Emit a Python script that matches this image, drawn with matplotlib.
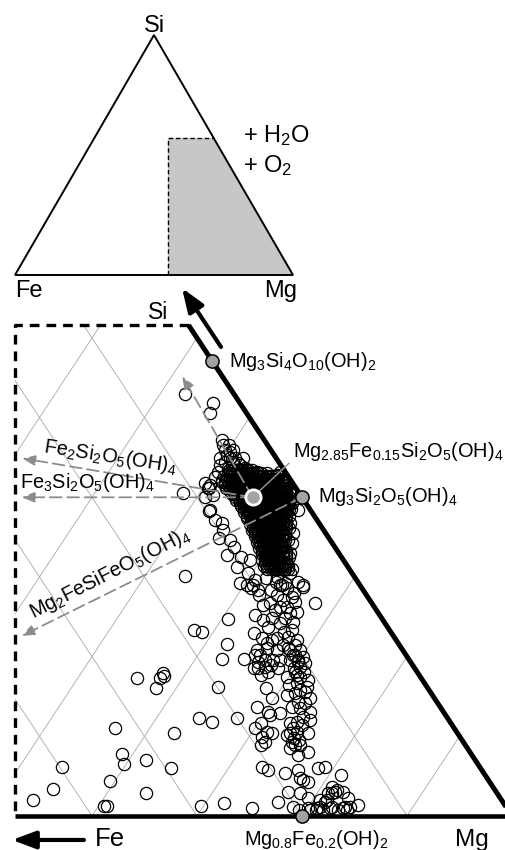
import numpy as np
import matplotlib.pyplot as plt
from matplotlib.patches import Polygon

plt.rcParams['font.family'] = ['Liberation Sans', 'DejaVu Sans']
plt.rcParams['mathtext.fontset'] = 'custom'
plt.rcParams['mathtext.rm'] = 'Liberation Sans'
plt.rcParams['mathtext.it'] = 'Liberation Sans:italic'
plt.rcParams['mathtext.bf'] = 'Liberation Sans:bold'
plt.rcParams['lines.scale_dashes'] = False

# ---- data: analyses as (Mg %, Si %) cation fractions, Fe = 100 - Mg - Si ----
sparse_pts = [(53.8, 30.1), (60.6, 24.7), (58.1, 23.3), (58.9, 23.1), (62.1, 21.6),
              (62.5, 19.7), (64.6, 19.7), (55.6, 17.3), (57.8, 17.9), (58.1, 17.6),
              (57.8, 17.3), (58.0, 16.1), (63.9, 16.2), (64.0, 12.3), (65.5, 11.8),
              (67.7, 12.3), (56.7, 11.0), (62.6, 10.4), (59.0, 7.8), (59.8, 6.5),
              (61.6, 7.0), (64.5, 6.0), (54.0, 6.2), (59.5, 4.4), (54.6, 3.4),
              (63.7, 2.9), (53.4, 2.0), (60.5, 1.3), (60.8, 1.3), (69.7, 1.3),
              (71.8, 1.6), (74.7, 1.0), (67.9, 26.7), (42.4, 53.0), (45.6, 51.8),
              (45.9, 50.6), (48.4, 40.5), (52.0, 38.3), (50.5, 41.2), (49.9, 41.8)]

blob_edge_pts = [(48.8, 47.2), (49.2, 46.6), (49.7, 45.9), (50.2, 45.3), (50.7, 44.9),
                 (50.5, 44.4), (51.2, 44.4), (50.2, 44.0), (51.8, 44.3), (51.9, 44.9),
                 (52.7, 43.7), (52.1, 43.4), (50.4, 43.2), (50.5, 42.5), (51.3, 42.2),
                 (54.1, 43.2), (55.2, 43.0), (56.2, 42.8), (57.1, 42.2), (57.9, 41.5),
                 (58.4, 40.9), (50.4, 41.2), (50.5, 41.5), (50.8, 40.0), (52.0, 38.4),
                 (51.4, 40.3), (54.0, 36.8), (54.6, 34.9), (53.2, 37.1), (54.5, 35.9),
                 (55.8, 34.6), (56.6, 33.8), (57.9, 32.5), (59.0, 32.1), (56.5, 32.8),
                 (58.2, 31.2), (59.6, 30.5), (60.7, 29.6), (60.8, 29.0), (60.5, 36.8),
                 (61.4, 35.5), (61.9, 34.3), (62.4, 33.0), (62.7, 31.7), (62.8, 30.9),
                 (62.6, 30.0), (63.6, 30.5), (64.9, 29.4), (65.6, 29.0), (63.4, 29.0),
                 (59.0, 39.7), (60.4, 38.4), (57.3, 42.2), (56.3, 43.2), (58.9, 40.3),
                 (49.7, 46.6), (50.3, 45.7), (51.2, 44.9), (52.1, 44.0), (51.1, 43.7),
                 (49.7, 44.9), (50.5, 45.9)]

# saturated core of the cluster, one row per Si level
core_si = [43.4, 43.0, 42.7, 42.3, 41.9, 41.5, 41.2, 40.8, 40.4, 40.0, 39.7, 39.3,
           38.9, 38.5, 38.1, 37.7, 37.4, 37.0, 36.6, 36.2, 35.9, 35.5, 35.1, 34.7,
           34.4, 34.0, 33.6, 33.2, 32.9, 32.5, 32.1, 31.7, 31.4, 31.0]
core_mg = [
    [51.3, 51.6, 51.8, 52.1, 52.4, 52.7, 53.0, 53.2, 53.5],
    [51.8, 52.0, 52.3, 52.6, 52.9, 53.2, 53.5, 53.7, 54.0, 54.3, 54.6],
    [51.2, 51.5, 51.8, 52.1, 52.4, 52.7, 53.0, 53.2, 53.5, 53.8, 54.1, 54.4, 54.7,
     54.9, 55.2, 55.5, 55.8, 56.1, 56.4],
    [51.7, 52.0, 52.3, 52.6, 52.9, 53.2, 53.5, 53.7, 54.0, 54.3, 54.6, 54.9, 55.2,
     55.4, 55.7, 56.0, 56.3, 56.6, 56.9],
    [51.4, 51.7, 52.0, 52.3, 52.6, 52.8, 53.1, 53.4, 53.7, 54.0, 54.3, 54.6, 54.9,
     55.1, 55.4, 55.7, 56.0, 56.3, 56.6, 56.8, 57.1, 57.5],
    [51.9, 52.2, 52.5, 52.8, 53.1, 53.3, 53.6, 53.9, 54.2, 54.5, 54.8, 55.1, 55.4,
     55.6, 55.9, 56.2, 56.5, 56.8, 57.1, 57.3, 57.6],
    [52.2, 52.5, 52.8, 53.0, 53.3, 53.6, 53.9, 54.2, 54.5, 54.7, 55.0, 55.3, 55.6,
     55.9, 56.2, 56.5, 56.8, 57.0, 57.3, 57.6, 57.9],
    [52.7, 53.0, 53.3, 53.5, 53.8, 54.1, 54.4, 54.7, 55.0, 55.2, 55.5, 55.8, 56.1,
     56.4, 56.7, 57.0, 57.3, 57.5, 57.8, 58.1, 58.4],
    [53.1, 53.4, 53.7, 54.0, 54.3, 54.6, 54.8, 55.1, 55.4, 55.7, 56.0, 56.3, 56.6,
     56.9, 57.1, 57.4, 57.7, 58.0, 58.3],
    [53.6, 53.9, 54.2, 54.5, 54.8, 55.0, 55.3, 55.6, 55.9, 56.2, 56.5, 56.8, 57.1,
     57.3, 57.6, 57.9, 58.2, 58.5, 58.8],
    [53.9, 54.2, 54.5, 54.8, 55.1, 55.4, 55.7, 56.0, 56.3, 56.6, 56.8, 57.1, 57.4,
     57.7, 58.0, 58.3, 58.6, 58.9],
    [54.4, 54.7, 55.0, 55.3, 55.5, 55.8, 56.1, 56.4, 56.6, 56.9, 57.2, 57.5, 57.8,
     58.0, 58.3, 58.6, 58.8, 59.1, 59.4],
    [54.7, 55.0, 55.2, 55.5, 55.8, 56.1, 56.4, 56.7, 56.9, 57.2, 57.5, 57.8, 58.1,
     58.4, 58.7, 59.0, 59.2],
    [55.2, 55.5, 55.7, 56.0, 56.3, 56.6, 56.9, 57.2, 57.4, 57.7, 58.0, 58.3, 58.6,
     58.9, 59.2, 59.5, 59.7],
    [55.4, 55.7, 56.0, 56.3, 56.6, 56.9, 57.1, 57.4, 57.7, 58.0, 58.3, 58.6, 58.8,
     59.1, 59.4],
    [55.9, 56.2, 56.5, 56.8, 57.1, 57.4, 57.6, 57.9, 58.2, 58.5, 58.8, 59.1, 59.3,
     59.6, 59.9],
    [56.1, 56.4, 56.6, 56.9, 57.2, 57.5, 57.8, 58.1, 58.4, 58.6, 58.9, 59.2, 59.5],
    [56.6, 56.9, 57.1, 57.4, 57.7, 58.0, 58.3, 58.6, 58.9, 59.1, 59.4, 59.7, 60.0],
    [56.7, 57.0, 57.3, 57.6, 57.9, 58.1, 58.4, 58.7, 59.0, 59.3, 59.6, 59.9, 60.2],
    [57.2, 57.5, 57.8, 58.1, 58.4, 58.6, 58.9, 59.2, 59.5, 59.8, 60.1, 60.4, 60.7],
    [57.3, 57.6, 57.9, 58.2, 58.4, 58.7, 59.0, 59.3, 59.6, 59.9, 60.1],
    [57.8, 58.1, 58.4, 58.7, 58.9, 59.2, 59.5, 59.8, 60.1, 60.4, 60.6],
    [58.0, 58.3, 58.5, 58.8, 59.1, 59.4, 59.7, 60.0, 60.3, 60.5, 60.8],
    [58.5, 58.8, 59.0, 59.3, 59.6, 59.9, 60.2, 60.5, 60.8, 61.0, 61.3],
    [58.5, 58.8, 59.1, 59.4, 59.7, 59.9, 60.2, 60.5, 60.8],
    [59.0, 59.3, 59.6, 59.9, 60.2, 60.4, 60.7, 61.0, 61.3],
    [59.1, 59.4, 59.7, 60.0, 60.2, 60.5, 60.8, 61.1, 61.4],
    [59.6, 59.9, 60.2, 60.5, 60.7, 61.0, 61.3, 61.6, 61.9],
    [59.7, 60.0, 60.2, 60.5, 60.8, 61.1, 61.4, 61.7, 62.0],
    [60.2, 60.5, 60.7, 61.0, 61.3, 61.6, 61.9, 62.2, 62.5],
    [60.1, 60.4, 60.7, 61.0, 61.3, 61.5, 61.8],
    [60.6, 60.9, 61.2, 61.5, 61.8, 62.0, 62.3],
    [60.7, 61.0, 61.3, 61.6, 61.8, 62.1, 62.4, 62.7, 63.0],
    [61.2, 61.5, 61.8, 62.0, 62.3, 62.6, 62.9, 63.2, 63.5]]

band_pts = [(60.3, 29.0), (60.8, 28.6), (59.5, 29.2), (61.6, 28.4), (62.8, 28.4),
            (63.6, 29.0), (64.3, 28.6), (65.7, 28.7), (65.2, 28.0), (63.8, 27.7),
            (63.8, 29.2), (63.6, 26.7), (64.8, 26.2), (65.5, 26.2), (65.9, 26.9),
            (64.6, 27.1), (62.9, 25.2), (64.0, 24.6), (64.7, 24.8), (65.8, 24.2),
            (67.0, 24.3), (66.7, 25.6), (66.1, 25.5), (64.9, 23.7), (63.9, 23.0),
            (66.7, 23.1), (67.4, 22.5), (65.0, 22.3), (66.5, 22.3), (65.8, 21.7),
            (68.5, 22.1), (61.6, 29.9), (62.8, 29.4), (62.1, 27.7), (65.3, 27.5),
            (64.5, 25.8), (66.0, 24.8), (63.0, 26.5), (67.4, 23.3), (66.1, 22.1),
            (67.4, 21.5)]

middle_pts = [(65.3, 20.8), (66.1, 21.1), (67.2, 20.8), (68.1, 21.1), (68.6, 21.5),
              (69.4, 20.8), (70.1, 20.0), (65.4, 20.2), (66.2, 19.3), (66.7, 19.6),
              (67.5, 19.0), (68.1, 19.6), (69.1, 19.6), (70.0, 19.3), (70.7, 19.2),
              (69.2, 20.2), (66.1, 18.6), (67.2, 17.7), (67.7, 18.1), (68.4, 18.6),
              (69.9, 17.4), (70.3, 18.1), (71.1, 17.4), (72.0, 17.1), (71.2, 16.7),
              (72.4, 16.2), (68.5, 16.1), (69.7, 14.8), (71.0, 15.2), (71.6, 15.4),
              (71.9, 15.8), (73.4, 14.8), (73.2, 14.2), (72.5, 14.3), (68.9, 13.7),
              (70.2, 13.1), (70.6, 12.7), (71.5, 12.9), (72.2, 13.7), (73.0, 13.6),
              (74.2, 13.1), (73.9, 12.4), (70.2, 11.7), (70.0, 11.0), (71.4, 10.5),
              (71.9, 10.4), (73.0, 11.7), (73.6, 11.0), (74.3, 10.5), (73.7, 10.4),
              (74.3, 11.4), (74.7, 12.1), (75.4, 10.4), (71.2, 9.9), (71.8, 9.3),
              (74.4, 9.3), (74.9, 8.9), (75.0, 9.5), (71.6, 8.9), (75.8, 7.7),
              (76.6, 8.0), (68.5, 20.8), (69.0, 20.2), (69.8, 19.6), (70.5, 18.7),
              (69.9, 18.6), (70.7, 17.7), (71.1, 18.1), (70.6, 16.4), (72.5, 15.6),
              (73.5, 10.2), (74.3, 9.8), (73.6, 11.8), (75.4, 8.9), (74.6, 8.5),
              (65.9, 20.2), (67.1, 18.7), (67.4, 19.6), (66.5, 18.6)]

bottom_pts = [(73.1, 6.2), (73.9, 5.8), (75.7, 5.4), (76.7, 5.8), (77.8, 4.5),
              (78.4, 4.3), (78.5, 6.0), (79.1, 6.2), (81.2, 5.1), (77.2, 3.0),
              (76.8, 1.8), (78.4, 2.9), (79.4, 2.3), (78.6, 1.1), (79.3, 0.8),
              (80.4, 0.8), (80.9, 1.0), (81.4, 2.0), (81.4, 2.9), (81.1, 3.6),
              (81.7, 3.3), (82.4, 3.0), (83.2, 2.3), (82.3, 1.1), (83.0, 0.8),
              (83.4, 1.0), (84.0, 1.1), (84.6, 1.4), (83.9, 0.8), (81.6, 0.8),
              (80.7, 2.0), (77.4, 4.8), (81.0, 2.9), (81.6, 3.0), (80.1, 1.0),
              (80.9, 0.8), (81.2, 1.1), (82.2, 1.0), (83.5, 1.1), (81.3, 1.8)]

# reference phases on the Mg side
phase_labels = ['Mg$_{3}$Si$_{4}$O$_{10}$(OH)$_{2}$',
                'Mg$_{3}$Si$_{2}$O$_{5}$(OH)$_{4}$',
                'Mg$_{0.8}$Fe$_{0.2}$(OH)$_{2}$']
phase_mg = [42.86, 60.0, 80.0]
phase_si = [57.14, 40.0, 0.0]

liz_label = 'Mg$_{2.85}$Fe$_{0.15}$Si$_{2}$O$_{5}$(OH)$_{4}$'
liz_mg, liz_si = 55.3, 40.0

# substitution trends (start -> where they leave the plot)
trend_labels = ['', 'Fe$_{2}$Si$_{2}$O$_{5}$(OH)$_{4}$', 'Fe$_{3}$Si$_{2}$O$_{5}$(OH)$_{4}$',
                'Mg$_{2}$FeSiFeO$_{5}$(OH)$_{4}$']
trend_start = [(55.3, 40.0), (55.3, 40.0), (55.3, 40.0), (60.0, 40.0)]
trend_end = [(41.0, 55.2), (30.9, 44.9), (33.3, 40.0), (42.0, 22.6)]

# plotted window of the ternary
x_min = 0.5267     # Mg + Si/2 at the left dashed edge
si_top = 0.616     # Si at the top dashed edge
box_x = 0.55       # shaded box in the overview triangle
box_si = 0.571

R3 = np.sqrt(3) / 2


def tern(mg, si):
    mg = np.asarray(mg, dtype=float) / 100.0
    si = np.asarray(si, dtype=float) / 100.0
    return mg + si / 2, si * R3


fig = plt.figure(figsize=(5.05, 8.5), dpi=100)
lab_fs = 14.4

# ================= zoomed ternary =================
ax = fig.add_axes([0, 0, 1, 1])
ax.set_xlim(0.5124, 0.9933)
ax.set_ylim(-0.0370, 0.8870)
ax.axis('off')

top_x, top_y = 1 - si_top / 2, si_top * R3
region = Polygon([(x_min, 0), (1, 0), (top_x, top_y), (x_min, top_y)], closed=True,
                 fc='none', ec='none', transform=ax.transData)
ax.add_patch(region)

grid_c = '#a8a8a8'
for v in np.arange(0.1, 1.0, 0.1):
    l1, = ax.plot([v, v + (1 - v) / 2], [0, (1 - v) * R3], color=grid_c, lw=0.6, zorder=1)
    l2, = ax.plot([1 - v, (1 - v) / 2], [0, (1 - v) * R3], color=grid_c, lw=0.6, zorder=1)
    l1.set_clip_path(region)
    l2.set_clip_path(region)

pts = sparse_pts + blob_edge_pts + band_pts + middle_pts + bottom_pts
mg = [p[0] for p in pts] + [m for row in core_mg for m in row]
si = [p[1] for p in pts] + [s for s, row in zip(core_si, core_mg) for _ in row]
sx, sy = tern(mg, si)
ax.plot(sx, sy, 'o', ls='none', mfc='none', mec='black', ms=8.8, mew=0.9, zorder=3)

# frame of the window
ax.plot([x_min, 1], [0, 0], color='black', lw=3.3, solid_capstyle='butt', zorder=5)
ax.plot([1, top_x], [0, top_y], color='black', lw=3.6, solid_capstyle='butt', zorder=5)
ax.plot([top_x, x_min, x_min], [top_y, top_y, 0], color='black', lw=2.4,
        dashes=(7, 5), zorder=5)

# trend arrows
tc = '#8c8c8c'
for (m0, s0), (m1, s1) in zip(trend_start, trend_end):
    x0, y0 = tern(m0, s0)
    x1, y1 = tern(m1, s1)
    ax.annotate('', xy=(x1, y1), xytext=(x0, y0),
                arrowprops=dict(arrowstyle='-|>,head_length=0.55,head_width=0.22',
                                mutation_scale=14, color=tc, lw=1.3,
                                linestyle=(0, (8.5, 4)), shrinkA=0, shrinkB=0),
                zorder=6)

fig.text(0.2178, 0.4565, trend_labels[1], fontsize=lab_fs, ha='center', va='baseline',
         rotation=-8.7, rotation_mode='anchor')
fig.text(0.0396, 0.4259, trend_labels[2], fontsize=lab_fs, ha='left', va='baseline')
fig.text(0.2218, 0.3200, trend_labels[3], fontsize=lab_fs, ha='center', va='baseline',
         rotation=27, rotation_mode='anchor')

# reference phases
px, py = tern(phase_mg, phase_si)
ax.plot(px, py, 'o', ls='none', ms=9.5, mfc='#a3a3a3', mec='black', mew=1.1,
        zorder=8, clip_on=False)
offsets = [(12.2, -4.3), (11.5, -3.6), (10.0, -21.0)]
aligns = ['left', 'left', 'center']
for lab, x, y, off, ha in zip(phase_labels, px, py, offsets, aligns):
    ax.annotate(lab, (x, y), xytext=off, textcoords='offset points', fontsize=lab_fs,
                ha=ha, va='baseline', zorder=9)

lx, ly = tern(liz_mg, liz_si)
ax.plot([lx], [ly], 'o', ms=11, mfc='#a3a3a3', mec='white', mew=2.0, zorder=8)
ax.annotate(liz_label, xy=(lx, ly), xytext=(0.5802, 0.4624), textcoords='figure fraction',
            fontsize=lab_fs, ha='left', va='baseline',
            arrowprops=dict(arrowstyle='-', color='#9a9a9a', lw=1.0, shrinkA=1,
                            shrinkB=0, relpos=(0, 0.15)), zorder=7)

# end-member directions
big_arrow = dict(arrowstyle='-|>,head_length=0.75,head_width=0.28',
                 mutation_scale=19, color='black', lw=3, shrinkA=0, shrinkB=0)
ax.annotate('', xy=(0.3604, 0.6612), xytext=(0.4376, 0.5918), xycoords='figure fraction',
            arrowprops=big_arrow)
ax.annotate('', xy=(0.0238, 0.0118), xytext=(0.1663, 0.0118), xycoords='figure fraction',
            arrowprops=big_arrow)
fig.text(0.3327, 0.6247, 'Si', fontsize=16.5, ha='right', va='baseline')
fig.text(0.1881, 0.0047, 'Fe', fontsize=18.5, ha='left', va='baseline')
fig.text(0.9010, 0.0047, 'Mg', fontsize=17.5, ha='left', va='baseline')

# ================= overview triangle =================
ax_t = fig.add_axes([0, 0, 1, 1])
ax_t.set_xlim(-15 / 278, 490 / 278)
ax_t.set_ylim(-575 / 277.1, 275 / 277.1)
ax_t.axis('off')
ax_t.patch.set_alpha(0)

bx_y = box_si * R3
bx_r = 1 - box_si / 2
ax_t.add_patch(Polygon([(box_x, 0), (1, 0), (bx_r, bx_y), (box_x, bx_y)], closed=True,
                       fc='#c6c8c8', ec='none', zorder=1))
ax_t.add_patch(Polygon([(0, 0), (1, 0), (0.5, R3)], closed=True, fill=False,
                       ec='black', lw=1.4, joinstyle='miter', zorder=3))
ax_t.plot([box_x, box_x, bx_r], [0, bx_y, bx_y], color='black', lw=1.0,
          dashes=(3.2, 2.0), zorder=2)

top_fs = 17
fig.text(0.305, 0.9624, 'Si', fontsize=top_fs, ha='center', va='baseline')
fig.text(0.0297, 0.6506, 'Fe', fontsize=top_fs, ha='left', va='baseline')
fig.text(0.5228, 0.6506, 'Mg', fontsize=top_fs, ha='left', va='baseline')
fig.text(0.4812, 0.8329, '+ H$_{2}$O', fontsize=top_fs, ha='left', va='baseline')
fig.text(0.4812, 0.7976, '+ O$_{2}$', fontsize=top_fs, ha='left', va='baseline')

fig.savefig('out.png', dpi=100)
